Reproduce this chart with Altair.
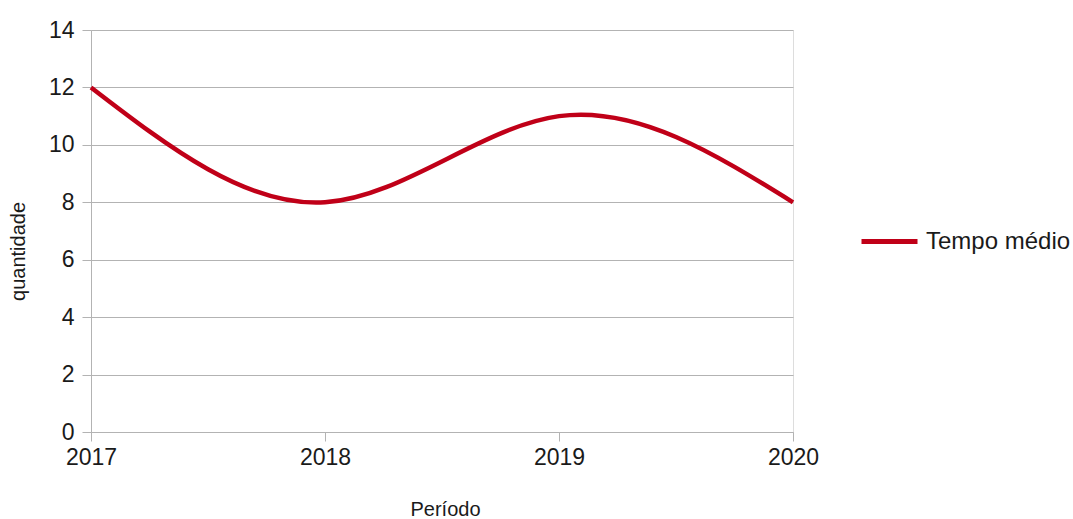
import altair as alt
import pandas as pd

years = [2017, 2018, 2019, 2020]
values = [12, 8, 11, 8]
series = ["Tempo médio"] * 4

df = pd.DataFrame({"Período": years, "quantidade": values, "serie": series})

FONT = "Liberation Sans"
GRID = "#b3b3b3"
RED = "#c00018"

chart = alt.Chart(df).mark_line(
    interpolate="natural", strokeWidth=4.5, color=RED
).encode(
    x=alt.X(
        "Período:Q",
        scale=alt.Scale(domain=[2017, 2020], nice=False, zero=False),
        axis=alt.Axis(
            values=years, format="d", grid=False, tickSize=9, tickColor=GRID,
            domainColor=GRID, labelFont=FONT, labelFontSize=23, labelColor="#1a1a1a",
            labelPadding=5, labelFlush=False, title="Período", titleFont=FONT,
            titleFontSize=20, titleFontWeight="normal", titleColor="#1a1a1a",
            titleX=354, titleY=77, titleBaseline="middle",
        ),
    ),
    y=alt.Y(
        "quantidade:Q",
        scale=alt.Scale(domain=[0, 14], nice=False),
        axis=alt.Axis(
            values=list(range(0, 15, 2)), grid=True, gridColor=GRID, tickSize=9,
            tickColor=GRID, domainColor=GRID, labelFont=FONT, labelFontSize=23,
            labelColor="#1a1a1a", labelPadding=8, title="quantidade",
            titleFont=FONT, titleFontSize=20, titleFontWeight="normal",
            titleColor="#1a1a1a", titleX=-73, titleY=221, titleBaseline="middle",
            titleAngle=-90,
        ),
    ),
    color=alt.Color(
        "serie:N",
        scale=alt.Scale(range=[RED]),
        legend=alt.Legend(
            title=None, orient="none", legendX=768, legendY=181, padding=0,
            symbolType="stroke", symbolSize=3136, symbolStrokeWidth=5,
            labelFont=FONT, labelFontSize=24, labelColor="#1a1a1a", labelOffset=6,
            labelLimit=300,
        ),
    ),
).properties(
    width=702,
    height=402,
    padding={"left": 91, "top": 30, "right": 280, "bottom": 87},
    autosize=alt.AutoSizeParams(type="none"),
).configure_view(
    stroke=GRID, strokeWidth=1
).configure(background="white")

chart.save("out.html", embed_options={"renderer": "svg", "actions": False})
